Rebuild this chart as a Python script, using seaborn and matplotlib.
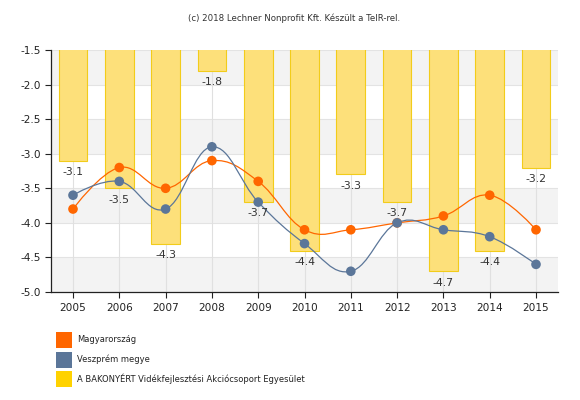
import numpy as np
import pandas as pd
import seaborn as sns
import matplotlib
matplotlib.use("Agg")
import matplotlib.pyplot as plt
from matplotlib.path import Path
from matplotlib.patches import PathPatch, Rectangle

years = ['2005', '2006', '2007', '2008', '2009', '2010', '2011', '2012', '2013', '2014', '2015']
bakonyert = [-3.1, -3.5, -4.3, -1.8, -3.7, -4.4, -3.3, -3.7, -4.7, -4.4, -3.2]
magyarorszag = [-3.8, -3.2, -3.5, -3.1, -3.4, -4.1, -4.1, -4.0, -3.9, -3.6, -4.1]
veszprem = [-3.6, -3.4, -3.8, -2.9, -3.7, -4.3, -4.7, -4.0, -4.1, -4.2, -4.6]
series_names = ['Magyarország', 'Veszprém megye', 'A BAKONYÉRT Vidékfejlesztési Akciócsoport Egyesület']
y_ticks = [-5.0, -4.5, -4.0, -3.5, -3.0, -2.5, -2.0, -1.5]

orange = '#FF6600'
slate = '#5B7699'
yellow = '#FFD200'

df = pd.DataFrame({'Év': years, 'BAKONYÉRT': bakonyert})

sns.set_style('white')
plt.rcParams['font.family'] = ['DejaVu Sans']

fig = plt.figure(figsize=(5.8, 4), dpi=100)
ax = fig.add_axes([51 / 580, 108 / 400, 507 / 580, 242 / 400])


def spline_path(xs, ys, smoothing=1.5):
    # spline through the points, control points like the old highcharts splines
    n = len(xs)
    conts = []
    for i in range(n):
        if i == 0 or i == n - 1:
            conts.append(None)
            continue
        px, py = xs[i], ys[i]
        lx, ly = xs[i - 1], ys[i - 1]
        nx, ny = xs[i + 1], ys[i + 1]
        d = smoothing + 1
        lcx = (smoothing * px + lx) / d
        lcy = (smoothing * py + ly) / d
        rcx = (smoothing * px + nx) / d
        rcy = (smoothing * py + ny) / d
        if rcx != lcx:
            corr = (rcy - lcy) * (rcx - px) / (rcx - lcx) + py - rcy
            lcy += corr
            rcy += corr
        conts.append((lcx, lcy, rcx, rcy))
    verts = [(xs[0], ys[0])]
    codes = [Path.MOVETO]
    for i in range(1, n):
        prev = conts[i - 1]
        cur = conts[i]
        c1 = (prev[2], prev[3]) if prev else (xs[i - 1], ys[i - 1])
        c2 = (cur[0], cur[1]) if cur else (xs[i], ys[i])
        verts += [c1, c2, (xs[i], ys[i])]
        codes += [Path.CURVE4] * 3
    return Path(verts, codes)


# alternating bands and grid
for lo in [-5.0, -4.0, -3.0, -2.0]:
    ax.axhspan(lo, lo + 0.5, color='#F3F3F3', zorder=0, lw=0)
for t in y_ticks:
    ax.axhline(t, color='#E3E3E3', lw=0.8, zorder=0.5)
for i in range(len(years)):
    ax.axvline(i, color='#E0E0E0', lw=0.8, zorder=0.5)

sns.barplot(data=df, x='Év', y='BAKONYÉRT', color='#FDE07A', saturation=1,
            width=0.62, edgecolor='#F2CC1A', linewidth=0.8, ax=ax, zorder=2)

xs = np.arange(len(years), dtype=float)
for vals, col in [(magyarorszag, orange), (veszprem, slate)]:
    ax.add_patch(PathPatch(spline_path(xs, np.array(vals)), facecolor='none',
                           edgecolor=col, lw=0.9, zorder=3))
    sns.scatterplot(x=xs, y=vals, color=col, s=48, edgecolor='none', ax=ax, zorder=4)

for i, v in enumerate(bakonyert):
    ax.annotate(f'{v:.1f}', (i, v), xytext=(0, -4.5), textcoords='offset points',
                ha='center', va='top', fontsize=7.8, color='#333333', zorder=5)

ax.set_xlim(-0.475, len(years) - 1 + 0.475)
ax.set_ylim(-5.0, -1.5)
ax.set_yticks(y_ticks)
ax.set_yticklabels([f'{t:.1f}' for t in y_ticks])
ax.set_xticks(xs)
ax.set_xticklabels(years)
ax.set_xlabel('')
ax.set_ylabel('')
ax.tick_params(axis='both', labelsize=7.6, colors='#222222', length=4, width=0.8,
               direction='out', bottom=True, left=True)
ax.tick_params(axis='x', pad=4)
ax.tick_params(axis='y', pad=3)
for s in ['top', 'right']:
    ax.spines[s].set_visible(False)
for s in ['left', 'bottom']:
    ax.spines[s].set_color('#222222')
    ax.spines[s].set_linewidth(0.9)
    ax.spines[s].set_zorder(6)

fig.text(294 / 580, 1 - 18 / 400, '(c) 2018 Lechner Nonprofit Kft. Készült a TeIR-rel.',
         ha='center', va='center', fontsize=6.2, color='#333333')

# legend
for k, (name, col) in enumerate(zip(series_names, [orange, slate, yellow])):
    top = 332 + k * 19.5
    fig.patches.append(Rectangle((56 / 580, 1 - (top + 16) / 400), 16 / 580, 16 / 400,
                                 transform=fig.transFigure, facecolor=col,
                                 edgecolor='none', figure=fig))
    fig.text(77 / 580, 1 - (top + 8) / 400, name, ha='left', va='center',
             fontsize=6.0, color='#222222')

fig.savefig('out.png', dpi=100)
